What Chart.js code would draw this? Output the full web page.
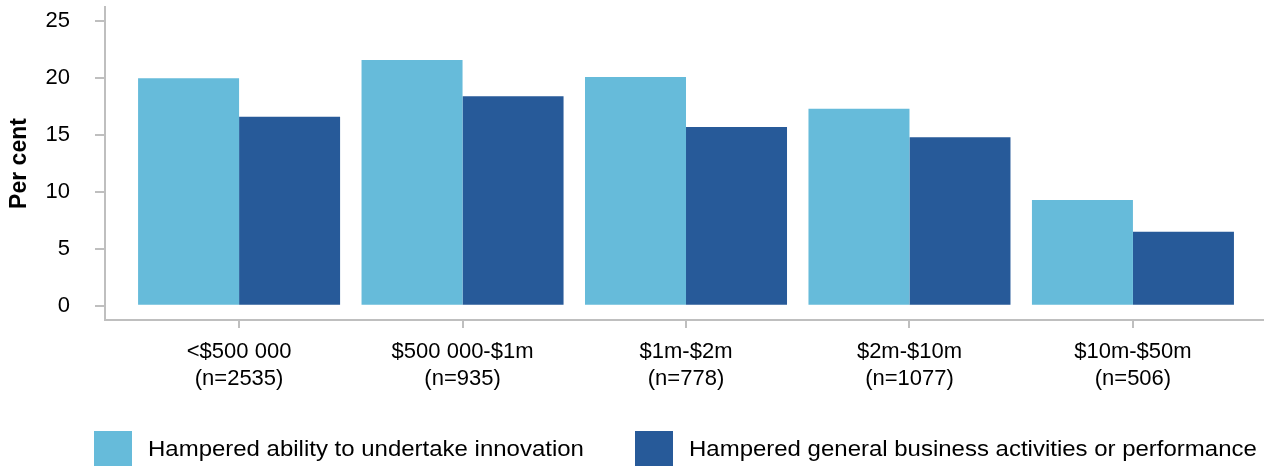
<!DOCTYPE html>
<html>
<head>
<meta charset="utf-8">
<script src="https://cdn.jsdelivr.net/npm/chart.js@4"></script>
<style>
  body { margin: 0; background: #fff; font-family: "Liberation Sans", Arial, sans-serif; }
  #wrap { position: relative; width: 1264px; height: 466px; }
  #legenda { position: absolute; left: 0; top: 0; width: 1264px; height: 466px; pointer-events: none; }
  .item { position: absolute; top: 431px; height: 35px; display: flex; align-items: center; }
  .caixa { width: 38px; height: 35px; margin-right: 16px; }
  .texto { font-size: 22px; color: #000; white-space: nowrap; display: inline-block; transform: scaleX(1.09); transform-origin: left center; }
</style>
</head>
<body>
<div id="wrap">
  <canvas id="grafico" width="1264" height="466"></canvas>
  <div id="legenda"></div>
</div>
<script>
const categorias = ["<$500 000", "$500 000-$1m", "$1m-$2m", "$2m-$10m", "$10m-$50m"];
const amostras = ["(n=2535)", "(n=935)", "(n=778)", "(n=1077)", "(n=506)"];
const inovacao = [20.0, 21.6, 20.1, 17.3, 9.3];
const desempenho = [16.6, 18.4, 15.7, 14.8, 6.5];
const yTicks = [0, 5, 10, 15, 20, 25];

const nomes = ["Hampered ability to undertake innovation", "Hampered general business activities or performance"];
const cores = ["#66BBDA", "#275A99"];
const legendaX = [94, 635];

const cinza = "#bfbfbf";
const fonte = "'Liberation Sans', Arial, sans-serif";

function pontos(valores) {
  return valores.map((v, i) => ({ x: i, y: v }));
}

const ctx = document.getElementById("grafico").getContext("2d");
new Chart(ctx, {
  type: 'bar',
  data: {
    datasets: [
      { label: nomes[0], data: pontos(inovacao), backgroundColor: cores[0], borderWidth: 0 },
      { label: nomes[1], data: pontos(desempenho), backgroundColor: cores[1], borderWidth: 0 }
    ]
  },
  options: {
    responsive: false,
    animation: false,
    layout: { padding: { top: 7, right: 1, left: 0, bottom: 0 } },
    datasets: { bar: { categoryPercentage: 0.904, barPercentage: 1.0 } },
    plugins: {
      legend: { display: false },
      tooltip: { enabled: false }
    },
    scales: {
      x: {
        type: 'linear',
        offset: false,
        min: -0.6,
        max: 4.582,
        afterBuildTicks: s => { s.ticks = categorias.map((c, i) => ({ value: i })); },
        afterFit: s => { s.height = 146; s.paddingLeft = 0; s.paddingRight = 0; },
        border: { color: cinza, width: 2 },
        grid: { offset: false, drawOnChartArea: false, color: cinza, lineWidth: 2, tickLength: 8 },
        ticks: {
          padding: 10,
          color: '#000',
          font: { family: fonte, size: 22, lineHeight: 1.25 },
          maxRotation: 0,
          callback: (v) => [categorias[v], amostras[v]]
        }
      },
      y: {
        min: -1.25,
        max: 26.25,
        afterBuildTicks: s => { s.ticks = yTicks.map(v => ({ value: v })); },
        afterFit: s => { s.width = 105; s.paddingTop = 0; s.paddingBottom = 0; },
        border: { color: cinza, width: 2 },
        grid: { drawOnChartArea: false, color: cinza, lineWidth: 2, tickLength: 10 },
        ticks: {
          padding: 25,
          color: '#000',
          font: { family: fonte, size: 22 }
        },
        title: {
          display: true,
          text: 'Per cent',
          color: '#000',
          padding: { top: 6, bottom: 0 },
          font: { family: fonte, size: 23, weight: 'bold' }
        }
      }
    }
  }
});

// legenda em HTML
const legenda = document.getElementById("legenda");
nomes.forEach((n, i) => {
  const item = document.createElement("div");
  item.className = "item";
  item.style.left = legendaX[i] + "px";
  item.innerHTML = `<div class="caixa" style="background:${cores[i]}"></div><span class="texto">${n}</span>`;
  legenda.appendChild(item);
});
</script>
</body>
</html>
